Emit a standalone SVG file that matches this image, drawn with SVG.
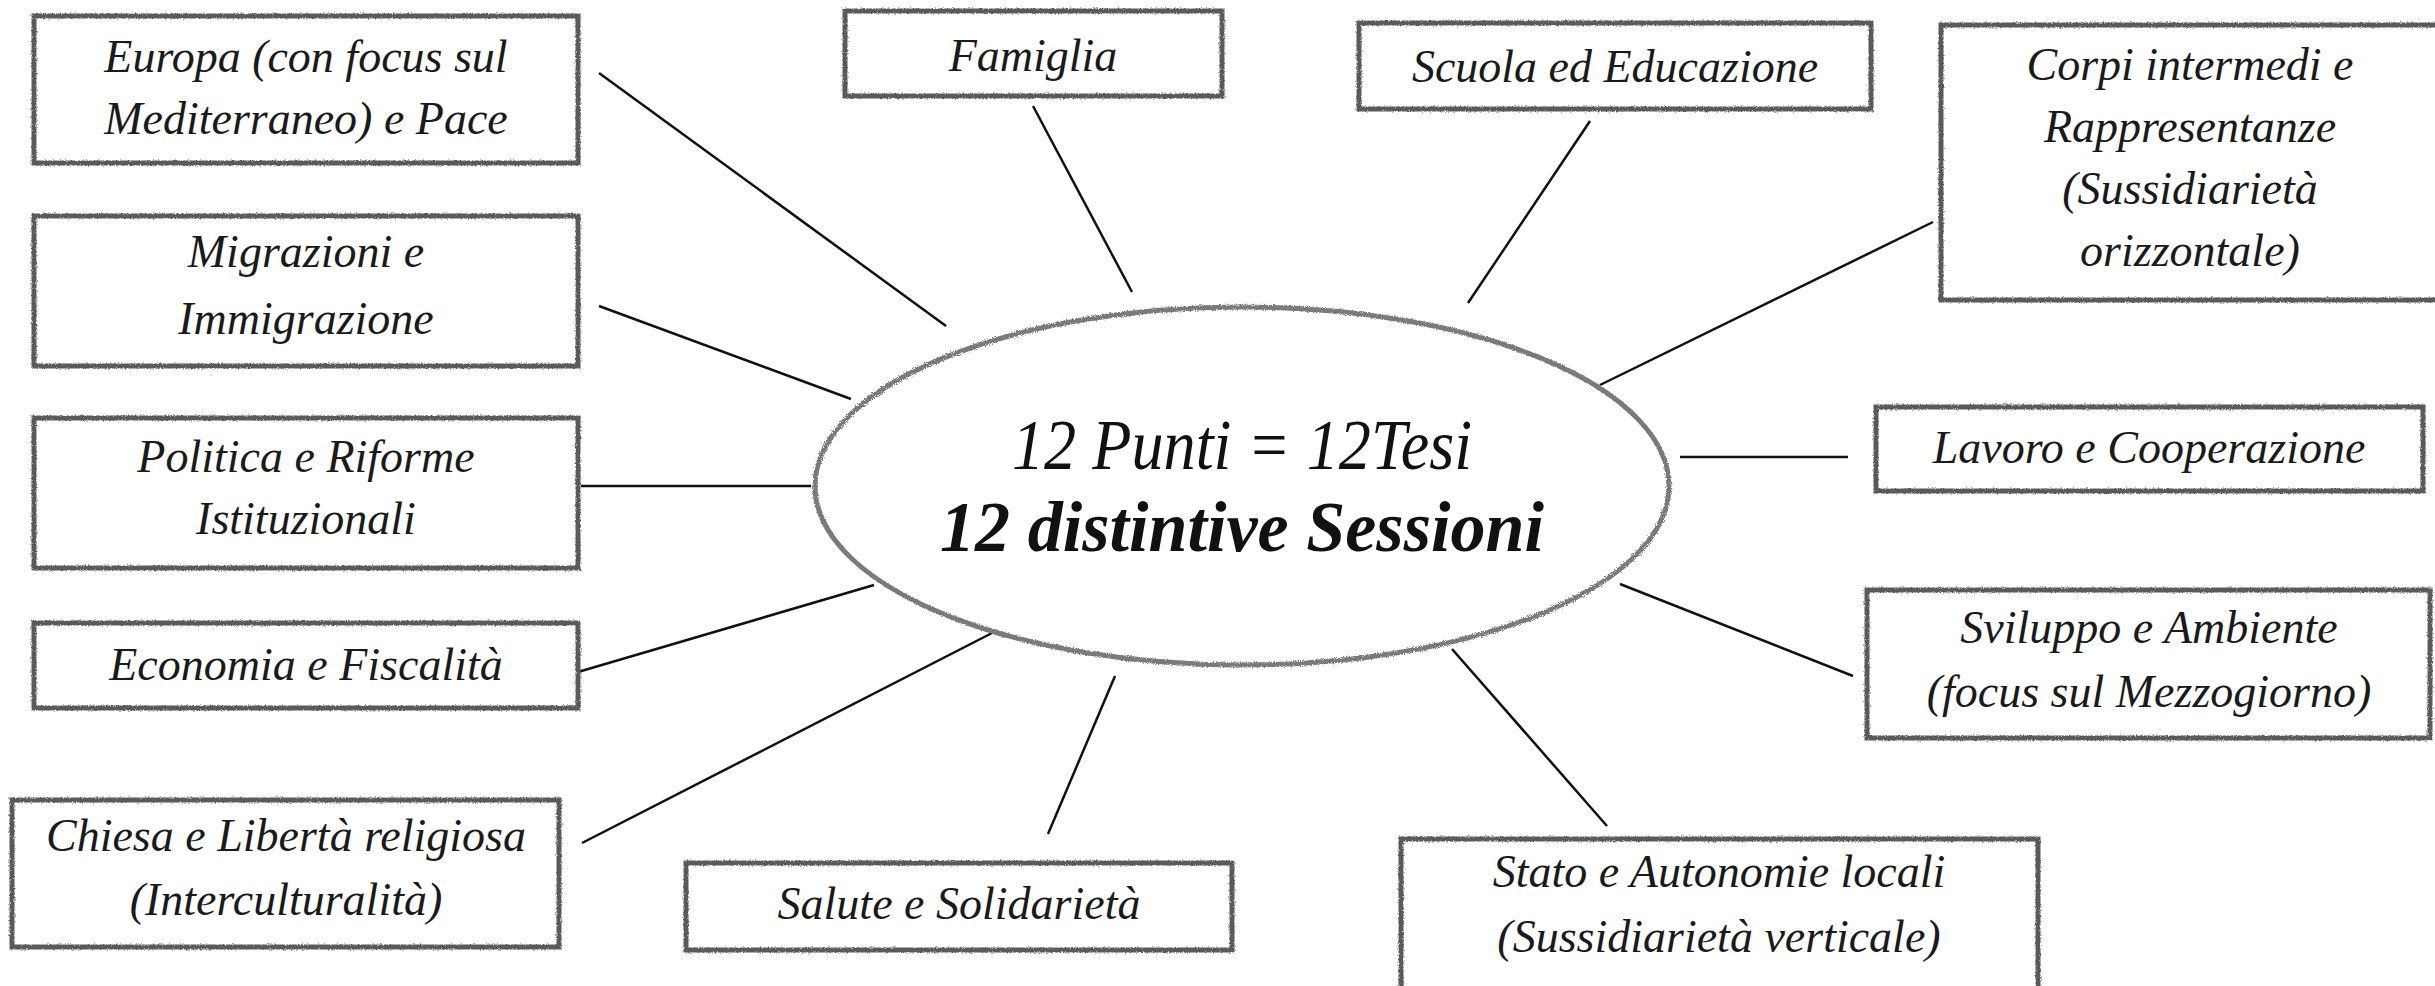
<svg xmlns="http://www.w3.org/2000/svg" width="2435" height="986" viewBox="0 0 2435 986">
<style>
.box{fill:#fff;stroke:#5a5a5a;stroke-width:5;filter:url(#rough)}
.t{font-family:"Liberation Serif","Times New Roman",serif;font-style:italic;font-size:46px;fill:#1a1a1a;text-anchor:middle}
.c line{stroke:#111;stroke-width:2.5}
.hub{fill:#fff;stroke:#7a7a7a;stroke-width:5;filter:url(#rough2)}
.h1{font-family:"Liberation Serif","Times New Roman",serif;font-style:italic;font-size:72px;fill:#111;text-anchor:middle}
.h2{font-family:"Liberation Serif","Times New Roman",serif;font-style:italic;font-weight:bold;font-size:72px;fill:#111;text-anchor:middle}
</style>
<defs>
<filter id="rough" x="-5%" y="-5%" width="110%" height="110%">
<feTurbulence type="fractalNoise" baseFrequency="0.6" numOctaves="2" seed="3" result="n"/>
<feDisplacementMap in="SourceGraphic" in2="n" scale="3"/>
</filter>
<filter id="rough2" x="-5%" y="-5%" width="110%" height="110%">
<feTurbulence type="fractalNoise" baseFrequency="0.9" numOctaves="2" seed="7" result="n"/>
<feDisplacementMap in="SourceGraphic" in2="n" scale="4"/>
</filter>
</defs>
<rect width="2435" height="986" fill="#fff"/>
<g id="connectors" class="c">
<line x1="599" y1="73" x2="946" y2="326"/>
<line x1="1033" y1="106" x2="1132" y2="292"/>
<line x1="1590" y1="121" x2="1468" y2="303"/>
<line x1="1933" y1="222" x2="1600" y2="385"/>
<line x1="1680" y1="457" x2="1848" y2="457"/>
<line x1="1620" y1="584" x2="1853" y2="676"/>
<line x1="1452" y1="649" x2="1607" y2="826"/>
<line x1="1115" y1="676" x2="1048" y2="834"/>
<line x1="994" y1="632" x2="582" y2="843"/>
<line x1="874" y1="585" x2="578" y2="672"/>
<line x1="581" y1="486" x2="811" y2="486"/>
<line x1="599" y1="306" x2="851" y2="399"/>
</g>
<g id="hub">
<ellipse class="hub" cx="1242" cy="486" rx="427" ry="179"/>
<text class="h1" x="1242" y="469" textLength="460" lengthAdjust="spacingAndGlyphs">12 Punti = 12Tesi</text>
<text class="h2" x="1242" y="551" textLength="604" lengthAdjust="spacingAndGlyphs">12 distintive Sessioni</text>
</g>
<g id="europa">
<rect class="box" x="34" y="16" width="544" height="147"/>
<text class="t" x="306" y="72">Europa (con focus sul</text>
<text class="t" x="306" y="134">Mediterraneo) e Pace</text>
</g>
<g id="famiglia">
<rect class="box" x="845" y="11" width="377" height="85"/>
<text class="t" x="1033" y="71">Famiglia</text>
</g>
<g id="scuola">
<rect class="box" x="1359" y="23" width="512" height="86"/>
<text class="t" x="1615" y="82">Scuola ed Educazione</text>
</g>
<g id="corpi">
<rect class="box" x="1941" y="25" width="510" height="275"/>
<text class="t" x="2190" y="80">Corpi intermedi e</text>
<text class="t" x="2190" y="142">Rappresentanze</text>
<text class="t" x="2190" y="204">(Sussidiarietà</text>
<text class="t" x="2190" y="266">orizzontale)</text>
</g>
<g id="lavoro">
<rect class="box" x="1876" y="407" width="547" height="84"/>
<text class="t" x="2149" y="463">Lavoro e Cooperazione</text>
</g>
<g id="sviluppo">
<rect class="box" x="1867" y="590" width="563" height="148"/>
<text class="t" x="2149" y="643">Sviluppo e Ambiente</text>
<text class="t" x="2149" y="707">(focus sul Mezzogiorno)</text>
</g>
<g id="stato">
<rect class="box" x="1401" y="839" width="637" height="160"/>
<text class="t" x="1719" y="887">Stato e Autonomie locali</text>
<text class="t" x="1719" y="952">(Sussidiarietà verticale)</text>
</g>
<g id="salute">
<rect class="box" x="686" y="863" width="546" height="87"/>
<text class="t" x="959" y="919">Salute e Solidarietà</text>
</g>
<g id="chiesa">
<rect class="box" x="12" y="800" width="547" height="147"/>
<text class="t" x="286" y="851">Chiesa e Libertà religiosa</text>
<text class="t" x="286" y="915">(Interculturalità)</text>
</g>
<g id="economia">
<rect class="box" x="34" y="623" width="544" height="85"/>
<text class="t" x="306" y="680">Economia e Fiscalità</text>
</g>
<g id="politica">
<rect class="box" x="34" y="418" width="544" height="150"/>
<text class="t" x="306" y="472">Politica e Riforme</text>
<text class="t" x="306" y="534">Istituzionali</text>
</g>
<g id="migrazioni">
<rect class="box" x="34" y="216" width="544" height="150"/>
<text class="t" x="306" y="267">Migrazioni e</text>
<text class="t" x="306" y="334">Immigrazione</text>
</g>
</svg>
